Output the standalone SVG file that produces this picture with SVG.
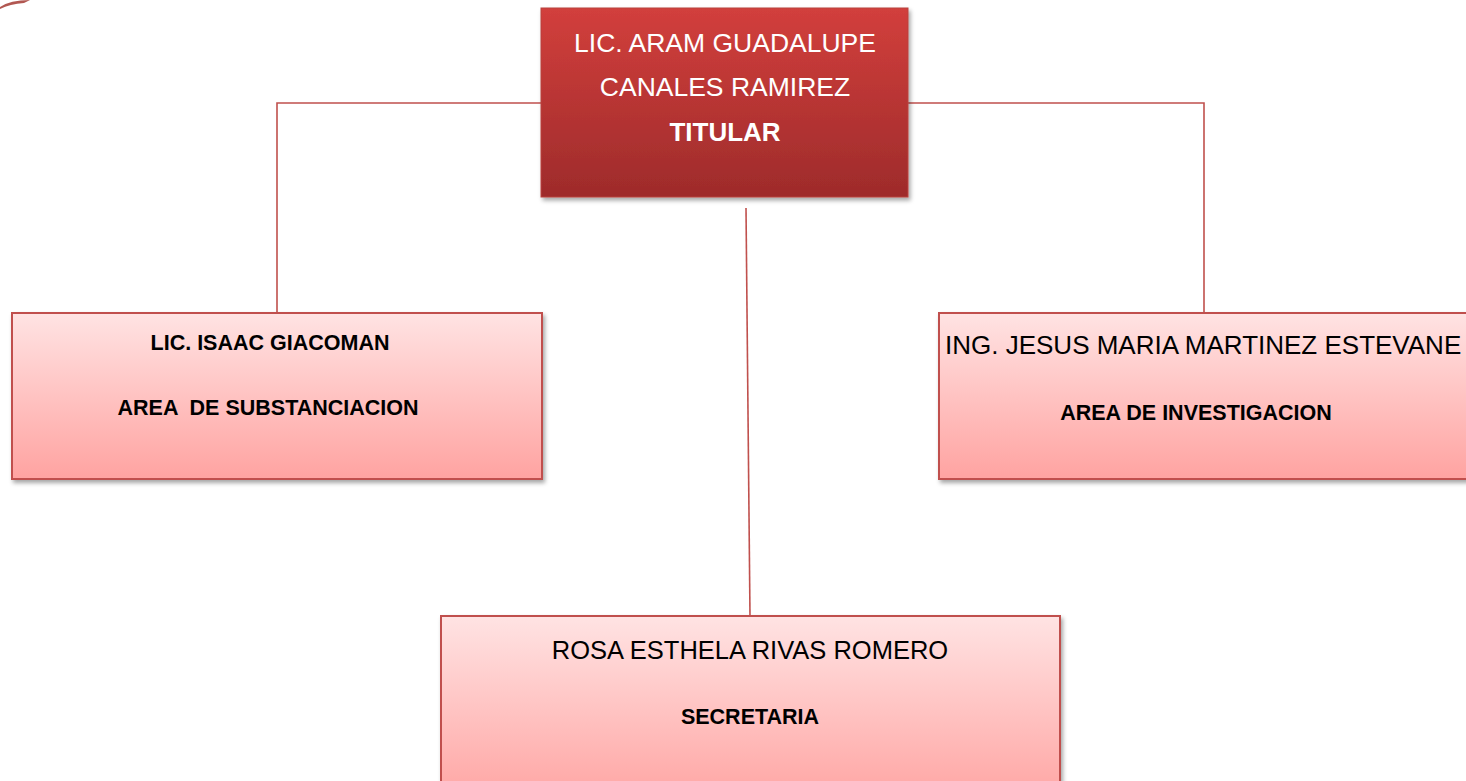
<svg xmlns="http://www.w3.org/2000/svg" width="1466" height="781" viewBox="0 0 1466 781">
  <style>
    .conn { stroke: #c0504d; stroke-width: 1.6; fill: none; }
    .pink { fill: url(#gPink); stroke: #c0504d; stroke-width: 2; filter: url(#shadow); }
    .red { fill: url(#gRed); stroke: #b8403d; stroke-width: 1; filter: url(#shadow); }
    .t { font-family: "Liberation Sans", Arial, sans-serif; fill: #000; }
    .tw { font-family: "Liberation Sans", Arial, sans-serif; fill: #fff; }
    .b { font-weight: bold; font-size: 21.5px; }
  </style>
  <defs>
    <linearGradient id="gPink" x1="0" y1="0" x2="0" y2="1">
      <stop offset="0" stop-color="#ffe3e3"/>
      <stop offset="1" stop-color="#ffa3a1"/>
    </linearGradient>
    <linearGradient id="gRed" x1="0" y1="0" x2="0" y2="1">
      <stop offset="0" stop-color="#d23f3c"/>
      <stop offset="1" stop-color="#9e2b2b"/>
    </linearGradient>
    <filter id="shadow" x="-5%" y="-5%" width="115%" height="120%">
      <feDropShadow dx="2" dy="3" stdDeviation="2" flood-color="#000" flood-opacity="0.35"/>
    </filter>
  </defs>
  <rect width="1466" height="781" fill="#fff"/>
  <path d="M0,7 Q10,0 30,0 L24,3 Q10,4 0,9 Z" fill="#a33a33" opacity="0.85"/>

  <g id="connectors">
    <polyline class="conn" points="541,103 277,103 277,313"/>
    <polyline class="conn" points="908,103 1204,103 1204,313"/>
    <line class="conn" x1="746" y1="208" x2="750" y2="616"/>
  </g>

  <g id="titular">
    <rect class="red" x="541" y="8" width="367" height="189"/>
    <text class="tw" x="725" y="52" font-size="26.5" text-anchor="middle">LIC. ARAM GUADALUPE</text>
    <text class="tw" x="725" y="96" font-size="26.5" text-anchor="middle">CANALES RAMIREZ</text>
    <text class="tw" x="725" y="141" font-size="26" font-weight="bold" text-anchor="middle">TITULAR</text>
  </g>

  <g id="substanciacion">
    <rect class="pink" x="12" y="313" width="530" height="166"/>
    <text class="t b" x="270" y="350" text-anchor="middle">LIC. ISAAC GIACOMAN</text>
    <text class="t b" x="268" y="415" text-anchor="middle" xml:space="preserve">AREA  DE SUBSTANCIACION</text>
  </g>

  <g id="investigacion">
    <rect class="pink" x="939" y="313" width="540" height="166"/>
    <text class="t" x="945" y="354" font-size="26">ING. JESUS MARIA MARTINEZ ESTEVANE</text>
    <text class="t b" x="1196" y="420" text-anchor="middle">AREA DE INVESTIGACION</text>
  </g>

  <g id="secretaria">
    <rect class="pink" x="441" y="616" width="619" height="190"/>
    <text class="t" x="750" y="659" font-size="25.5" text-anchor="middle">ROSA ESTHELA RIVAS ROMERO</text>
    <text class="t b" x="750" y="724" text-anchor="middle">SECRETARIA</text>
  </g>
</svg>
